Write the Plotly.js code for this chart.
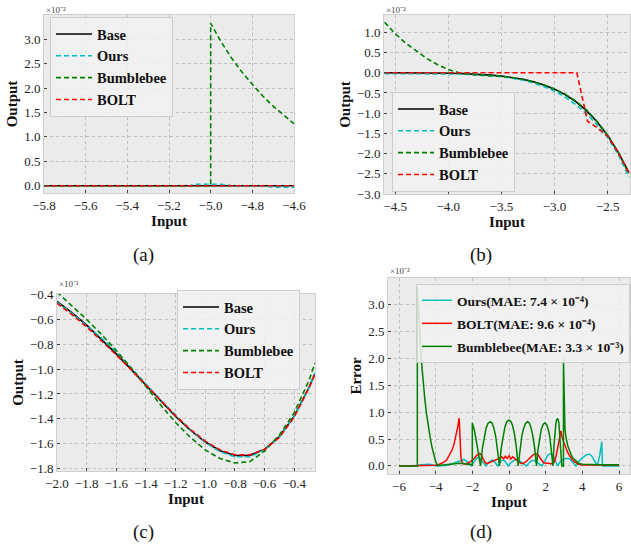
<!DOCTYPE html>
<html><head><meta charset="utf-8">
<script src="https://cdn.plot.ly/plotly-3.0.1.min.js"></script>
<style>html,body{margin:0;padding:0;background:#fff}#c{width:631px;height:550px}</style>
</head><body><div id="c"></div>
<script>
// ---------- Panel (a) data (values x10^-2) ----------
const aX = [-5.8,-5.7,-5.6,-5.5,-5.4,-5.3,-5.2,-5.1,-5.0,-4.9,-4.8,-4.7,-4.6];
const aBase = [0,0,0,0,0,0,0,0,0,0,0,0,0];
const aOursX = [-5.8,-5.1,-5.08,-4.95,-4.9,-4.75,-4.7,-4.6];
const aOurs = [0,0,0.03,0.03,0,0,-0.03,-0.03];
const aBumX = [-5.8,-5.0,-5.0,-4.95,-4.9,-4.85,-4.8,-4.75,-4.7,-4.65,-4.6];
const aBum = [0,0,3.33,2.95,2.62,2.33,2.08,1.84,1.63,1.44,1.27];
const aBoltX = [-5.8,-4.6];
const aBolt = [0,0];

// ---------- Panel (b) data (values x10^-2) ----------
const bX = [-4.6,-4.5,-4.4,-4.3,-4.2,-4.1,-4.0,-3.9,-3.8,-3.7,-3.6,-3.5,-3.4,-3.3,-3.2,-3.1,-3.0,-2.9,-2.8,-2.7,-2.6,-2.5,-2.4,-2.3];
const bBase = [0,0,-0.001,-0.004,-0.006,-0.008,-0.013,-0.019,-0.027,-0.04,-0.057,-0.081,-0.115,-0.159,-0.22,-0.3,-0.405,-0.54,-0.715,-0.937,-1.21,-1.55,-1.97,-2.47];
const bOurs = [-0.02,-0.02,-0.02,-0.02,-0.02,-0.02,-0.02,-0.03,-0.04,-0.05,-0.07,-0.09,-0.13,-0.18,-0.25,-0.34,-0.45,-0.6,-0.79,-1.01,-1.29,-1.6,-2.03,-2.58];
const bBum = [1.25,0.97,0.73,0.53,0.35,0.2,0.08,0.0,-0.04,-0.06,-0.07,-0.09,-0.12,-0.16,-0.22,-0.3,-0.4,-0.53,-0.7,-0.92,-1.2,-1.55,-1.98,-2.5];
const bBoltX = [-4.6,-2.79,-2.69,-2.6,-2.5,-2.4,-2.3];
const bBolt = [0,0,-1.2,-1.36,-1.57,-1.98,-2.48];

// ---------- Panel (c) data (values x10^-1) ----------
const cX = [-2.0,-1.9,-1.8,-1.7,-1.6,-1.5,-1.4,-1.3,-1.2,-1.1,-1.0,-0.9,-0.8,-0.7,-0.6,-0.5,-0.4,-0.3,-0.26];
const cBase = [-0.455,-0.545,-0.646,-0.758,-0.877,-1.002,-1.131,-1.258,-1.381,-1.492,-1.587,-1.657,-1.695,-1.694,-1.646,-1.543,-1.378,-1.146,-1.033];
const cOurs = [-0.46,-0.55,-0.65,-0.75,-0.86,-0.99,-1.12,-1.25,-1.37,-1.49,-1.59,-1.665,-1.705,-1.705,-1.65,-1.545,-1.38,-1.15,-1.03];
const cBum = [-0.38,-0.49,-0.6,-0.72,-0.85,-0.99,-1.14,-1.29,-1.43,-1.55,-1.65,-1.72,-1.755,-1.745,-1.66,-1.53,-1.35,-1.09,-0.95];
const cBolt = [-0.47,-0.56,-0.66,-0.77,-0.885,-1.005,-1.13,-1.255,-1.375,-1.485,-1.58,-1.65,-1.69,-1.69,-1.645,-1.55,-1.385,-1.15,-1.04];

// ---------- Panel (d) data (errors x10^-2) ----------
const dOursX = [-6,-5.1,-5.0,-4.8,-4.6,-4.4,-4.2,-4.0,-3.9,-3.7,-3.4,-3.1,-2.8,-2.6,-2.45,-2.3,-2.15,-2.05,-1.95,-1.85,-1.75,-1.65,-1.55,-1.45,-1.35,-1.25,-1.15,-1.0,-0.9,-0.8,-0.7,-0.62,-0.5,-0.4,-0.3,-0.2,-0.1,-0.05,0.1,0.25,0.4,0.55,0.7,0.85,0.95,1.1,1.25,1.4,1.55,1.7,1.8,1.9,2.0,2.1,2.2,2.3,2.4,2.5,2.6,2.65,2.8,3.0,3.2,3.35,3.5,3.65,3.8,4.0,4.2,4.37,4.5,4.65,4.82,4.95,5.06,5.1,6.0];
const dOurs = [0,0,0.005,0.02,0.03,0.03,0.02,0.005,0,0.005,0.01,0.04,0.08,0.11,0.12,0.08,0.02,0,0.06,0.11,0.15,0.16,0.13,0.08,0.03,0,0.06,0.1,0.11,0.08,0.04,0,0.06,0.1,0.11,0.08,0.03,0,0.06,0.1,0.12,0.1,0.06,0.02,0,0.06,0.1,0.1,0.06,0.02,0,0.06,0.13,0.19,0.22,0.23,0.2,0.13,0.04,0,0.08,0.13,0.14,0.12,0.06,0,0.08,0.15,0.2,0.22,0.19,0.1,0,0.2,0.45,0,0];
const dBoltX = [-6,-4.5,-4.0,-3.8,-3.6,-3.4,-3.2,-3.1,-3.0,-2.9,-2.8,-2.72,-2.68,-2.62,-2.55,-2.45,-2.3,-2.1,-1.9,-1.75,-1.6,-1.5,-1.4,-1.3,-1.2,-1.05,-0.9,-0.75,-0.6,-0.5,-0.4,-0.3,-0.2,-0.1,0.0,0.1,0.2,0.3,0.4,0.55,0.7,0.85,1.0,1.15,1.3,1.45,1.6,1.75,1.9,2.1,2.3,2.45,2.55,2.65,2.75,2.83,2.9,3.0,3.1,3.2,3.3,3.4,3.5,3.65,3.8,4.0,6.0];
const dBolt = [0,0,0.013,0.03,0.06,0.11,0.22,0.3,0.4,0.54,0.72,0.89,0.5,0.15,0.06,0.03,0.04,0.08,0.14,0.2,0.23,0.2,0.12,0.06,0.04,0.06,0.09,0.11,0.13,0.15,0.17,0.13,0.18,0.14,0.19,0.13,0.17,0.14,0.11,0.07,0.04,0.06,0.1,0.15,0.2,0.23,0.2,0.12,0.06,0.05,0.04,0.06,0.15,0.32,0.52,0.65,0.52,0.42,0.33,0.25,0.19,0.14,0.1,0.06,0.03,0.015,0.015];
const dBumX = [-6,-5.0,-5.0,-4.95,-4.9,-4.85,-4.8,-4.75,-4.7,-4.65,-4.6,-4.5,-4.4,-4.3,-4.2,-4.1,-4.0,-3.9,-3.8,-3.5,-3.2,-3.0,-2.7,-2.4,-2.2,-2.0,-2.0,-1.9,-1.8,-1.7,-1.6,-1.55,-1.45,-1.35,-1.25,-1.15,-1.03,-0.93,-0.83,-0.73,-0.63,-0.52,-0.42,-0.32,-0.22,-0.12,-0.01,0.1,0.2,0.3,0.4,0.5,0.6,0.7,0.8,0.9,1.0,1.1,1.2,1.3,1.4,1.5,1.58,1.67,1.76,1.86,1.96,2.05,2.14,2.23,2.32,2.4,2.45,2.5,2.55,2.6,2.66,2.72,2.77,2.82,2.88,2.97,2.97,3.05,3.1,3.2,3.3,3.4,3.5,3.65,3.8,4.0,4.5,5.0,6.0];
const dBum = [0,0,3.33,2.95,2.62,2.33,2.08,1.84,1.63,1.44,1.27,0.97,0.73,0.53,0.35,0.2,0.08,0.01,0.01,0.02,0.03,0.04,0.05,0.04,0.03,0.02,0.8,0.68,0.5,0.3,0.1,0,0.33,0.56,0.7,0.79,0.82,0.8,0.71,0.56,0.33,0,0.34,0.58,0.73,0.82,0.85,0.83,0.74,0.59,0.35,0,0.33,0.56,0.7,0.79,0.82,0.8,0.71,0.56,0.33,0,0.3,0.54,0.68,0.77,0.8,0.77,0.68,0.53,0.3,0,0.35,0.6,0.77,0.86,0.88,0.8,0.6,0.35,0,0,1.98,0.7,0.55,0.38,0.27,0.2,0.14,0.09,0.05,0.03,0.02,0.02,0.02];

// ---------- tick values ----------
const aXTicks = [-5.8,-5.6,-5.4,-5.2,-5.0,-4.8,-4.6];
const aYTicks = [0,0.5,1,1.5,2,2.5,3];
const bXTicks = [-4.5,-4,-3.5,-3,-2.5];
const bYTicks = [-3,-2.5,-2,-1.5,-1,-0.5,0,0.5,1];
const cXTicks = [-2,-1.8,-1.6,-1.4,-1.2,-1,-0.8,-0.6,-0.4];
const cYTicks = [-1.8,-1.6,-1.4,-1.2,-1,-0.8,-0.6,-0.4];
const dXTicks = [-6,-4,-2,0,2,4,6];
const dYTicks = [0,0.5,1,1.5,2,2.5,3];

const FONT = 'Liberation Serif, Times New Roman, serif';
const C_BASE = '#000000', C_OURS = '#00bfbf', C_BUM = '#008000', C_BOLT = '#ff0000';
const DASH = '5px,3px';

function tr(x, y, name, color, dash, xa, ya, leg, w) {
  return {x: x, y: y, name: name, type: 'scatter', mode: 'lines', xaxis: xa, yaxis: ya,
    legend: leg, legendgroup: leg + name, showlegend: true,
    line: {color: color, width: w || 1.6, dash: dash}, hoverinfo: 'skip'};
}

const data = [
  tr(aX, aBase, 'Base', C_BASE, 'solid', 'x', 'y', 'legend'),
  tr(aOursX, aOurs, 'Ours', C_OURS, DASH, 'x', 'y', 'legend'),
  tr(aBumX, aBum, 'Bumblebee', C_BUM, DASH, 'x', 'y', 'legend'),
  tr(aBoltX, aBolt, 'BOLT', C_BOLT, DASH, 'x', 'y', 'legend'),

  tr(bX, bBase, 'Base', C_BASE, 'solid', 'x2', 'y2', 'legend2'),
  tr(bX, bOurs, 'Ours', C_OURS, DASH, 'x2', 'y2', 'legend2'),
  tr(bX, bBum, 'Bumblebee', C_BUM, DASH, 'x2', 'y2', 'legend2'),
  tr(bBoltX, bBolt, 'BOLT', C_BOLT, DASH, 'x2', 'y2', 'legend2'),

  tr(cX, cBase, 'Base', C_BASE, 'solid', 'x3', 'y3', 'legend3'),
  tr(cX, cOurs, 'Ours', C_OURS, DASH, 'x3', 'y3', 'legend3'),
  tr(cX, cBum, 'Bumblebee', C_BUM, DASH, 'x3', 'y3', 'legend3'),
  tr(cX, cBolt, 'BOLT', C_BOLT, DASH, 'x3', 'y3', 'legend3'),

  tr(dOursX, dOurs, 'Ours(MAE: 7.4 × 10⁻⁴)', C_OURS, 'solid', 'x4', 'y4', 'legend4', 1.5),
  tr(dBoltX, dBolt, 'BOLT(MAE: 9.6 × 10⁻⁴)', C_BOLT, 'solid', 'x4', 'y4', 'legend4', 1.5),
  tr(dBumX, dBum, 'Bumblebee(MAE: 3.3 × 10⁻³)', C_BUM, 'solid', 'x4', 'y4', 'legend4', 1.5)
];

function ax(domain, anchor, range, ticks, title, fmt) {
  return {domain: domain, anchor: anchor, range: range, tickvals: ticks, tickformat: fmt || '.1f',
    showgrid: true, gridcolor: '#b3b3b3', griddash: 'dot', gridwidth: 0.8,
    zeroline: false, showline: true, linecolor: '#cfcfcf', linewidth: 1, mirror: true,
    ticks: 'inside', ticklen: 3, tickcolor: '#444', tickwidth: 1,
    tickfont: {family: FONT, size: 13, color: '#222'},
    title: {text: title, font: {family: FONT, size: 15, color: '#111', weight: 'bold'}, standoff: 2},
    automargin: false, fixedrange: true};
}

const W = 631, H = 550;
const px = (a, b) => [a / W, b / W];
const py = (top, bottom) => [1 - bottom / H, 1 - top / H];

const legBase = {bgcolor: 'rgba(242,242,242,0.85)', bordercolor: '#cccccc', borderwidth: 1,
  xanchor: 'left', yanchor: 'top', itemwidth: 36,
  font: {family: FONT, size: 14.5, color: '#111', weight: 'bold'}, tracegroupgap: 0};

const expFont = {family: FONT, size: 9, color: '#444'};
const capFont = {family: FONT, size: 19, color: '#111'};

const layout = {
  width: W, height: H, margin: {l: 0, r: 0, t: 0, b: 0},
  paper_bgcolor: '#ffffff', plot_bgcolor: '#ebebeb',
  font: {family: FONT, color: '#222'},
  xaxis: ax(px(44, 294), 'y', [-5.8, -4.6], aXTicks, 'Input'),
  yaxis: ax(py(15, 193), 'x', [-0.15, 3.5], aYTicks, 'Output'),
  xaxis2: ax(px(384, 630), 'y2', [-4.605, -2.29], bXTicks, 'Input'),
  yaxis2: ax(py(15, 194), 'x2', [-3.0, 1.43], bYTicks, 'Output'),
  xaxis3: ax(px(57, 315), 'y3', [-2.0, -0.26], cXTicks, 'Input'),
  yaxis3: ax(py(294, 471), 'x3', [-1.82, -0.395], cYTicks, 'Output'),
  xaxis4: ax(px(388, 630), 'y4', [-6.6, 6.6], dXTicks, 'Input', 'd'),
  yaxis4: ax(py(278, 474), 'x4', [-0.15, 3.49], dYTicks, 'Error'),
  legend: Object.assign({}, legBase, {x: 50 / W, y: 1 - 17 / H}),
  legend2: Object.assign({}, legBase, {x: 392 / W, y: 1 - 92 / H}),
  legend3: Object.assign({}, legBase, {x: 177 / W, y: 1 - 290 / H}),
  legend4: Object.assign({}, legBase, {x: 416 / W, y: 1 - 284 / H, itemwidth: 30, tracegroupgap: 2.5,
    font: {family: FONT, size: 13.5, color: '#111', weight: 'bold'}}),
  annotations: [
    {text: '×10⁻²', x: 44 / W, y: 1 - 3 / H, xref: 'paper', yref: 'paper', xanchor: 'left', yanchor: 'top', showarrow: false, font: expFont},
    {text: '×10⁻²', x: 384 / W, y: 1 - 3 / H, xref: 'paper', yref: 'paper', xanchor: 'left', yanchor: 'top', showarrow: false, font: expFont},
    {text: '×10⁻¹', x: 57 / W, y: 1 - 277 / H, xref: 'paper', yref: 'paper', xanchor: 'left', yanchor: 'top', showarrow: false, font: expFont},
    {text: '×10⁻²', x: 388 / W, y: 1 - 264 / H, xref: 'paper', yref: 'paper', xanchor: 'left', yanchor: 'top', showarrow: false, font: expFont},
    {text: '(a)', x: 143 / W, y: 1 - 255 / H, xref: 'paper', yref: 'paper', xanchor: 'center', yanchor: 'middle', showarrow: false, font: capFont},
    {text: '(b)', x: 481 / W, y: 1 - 255 / H, xref: 'paper', yref: 'paper', xanchor: 'center', yanchor: 'middle', showarrow: false, font: capFont},
    {text: '(c)', x: 143 / W, y: 1 - 532 / H, xref: 'paper', yref: 'paper', xanchor: 'center', yanchor: 'middle', showarrow: false, font: capFont},
    {text: '(d)', x: 481 / W, y: 1 - 532 / H, xref: 'paper', yref: 'paper', xanchor: 'center', yanchor: 'middle', showarrow: false, font: capFont}
  ],
  showlegend: true
};

Plotly.newPlot('c', data, layout, {staticPlot: true, displayModeBar: false});
</script>
</body></html>
